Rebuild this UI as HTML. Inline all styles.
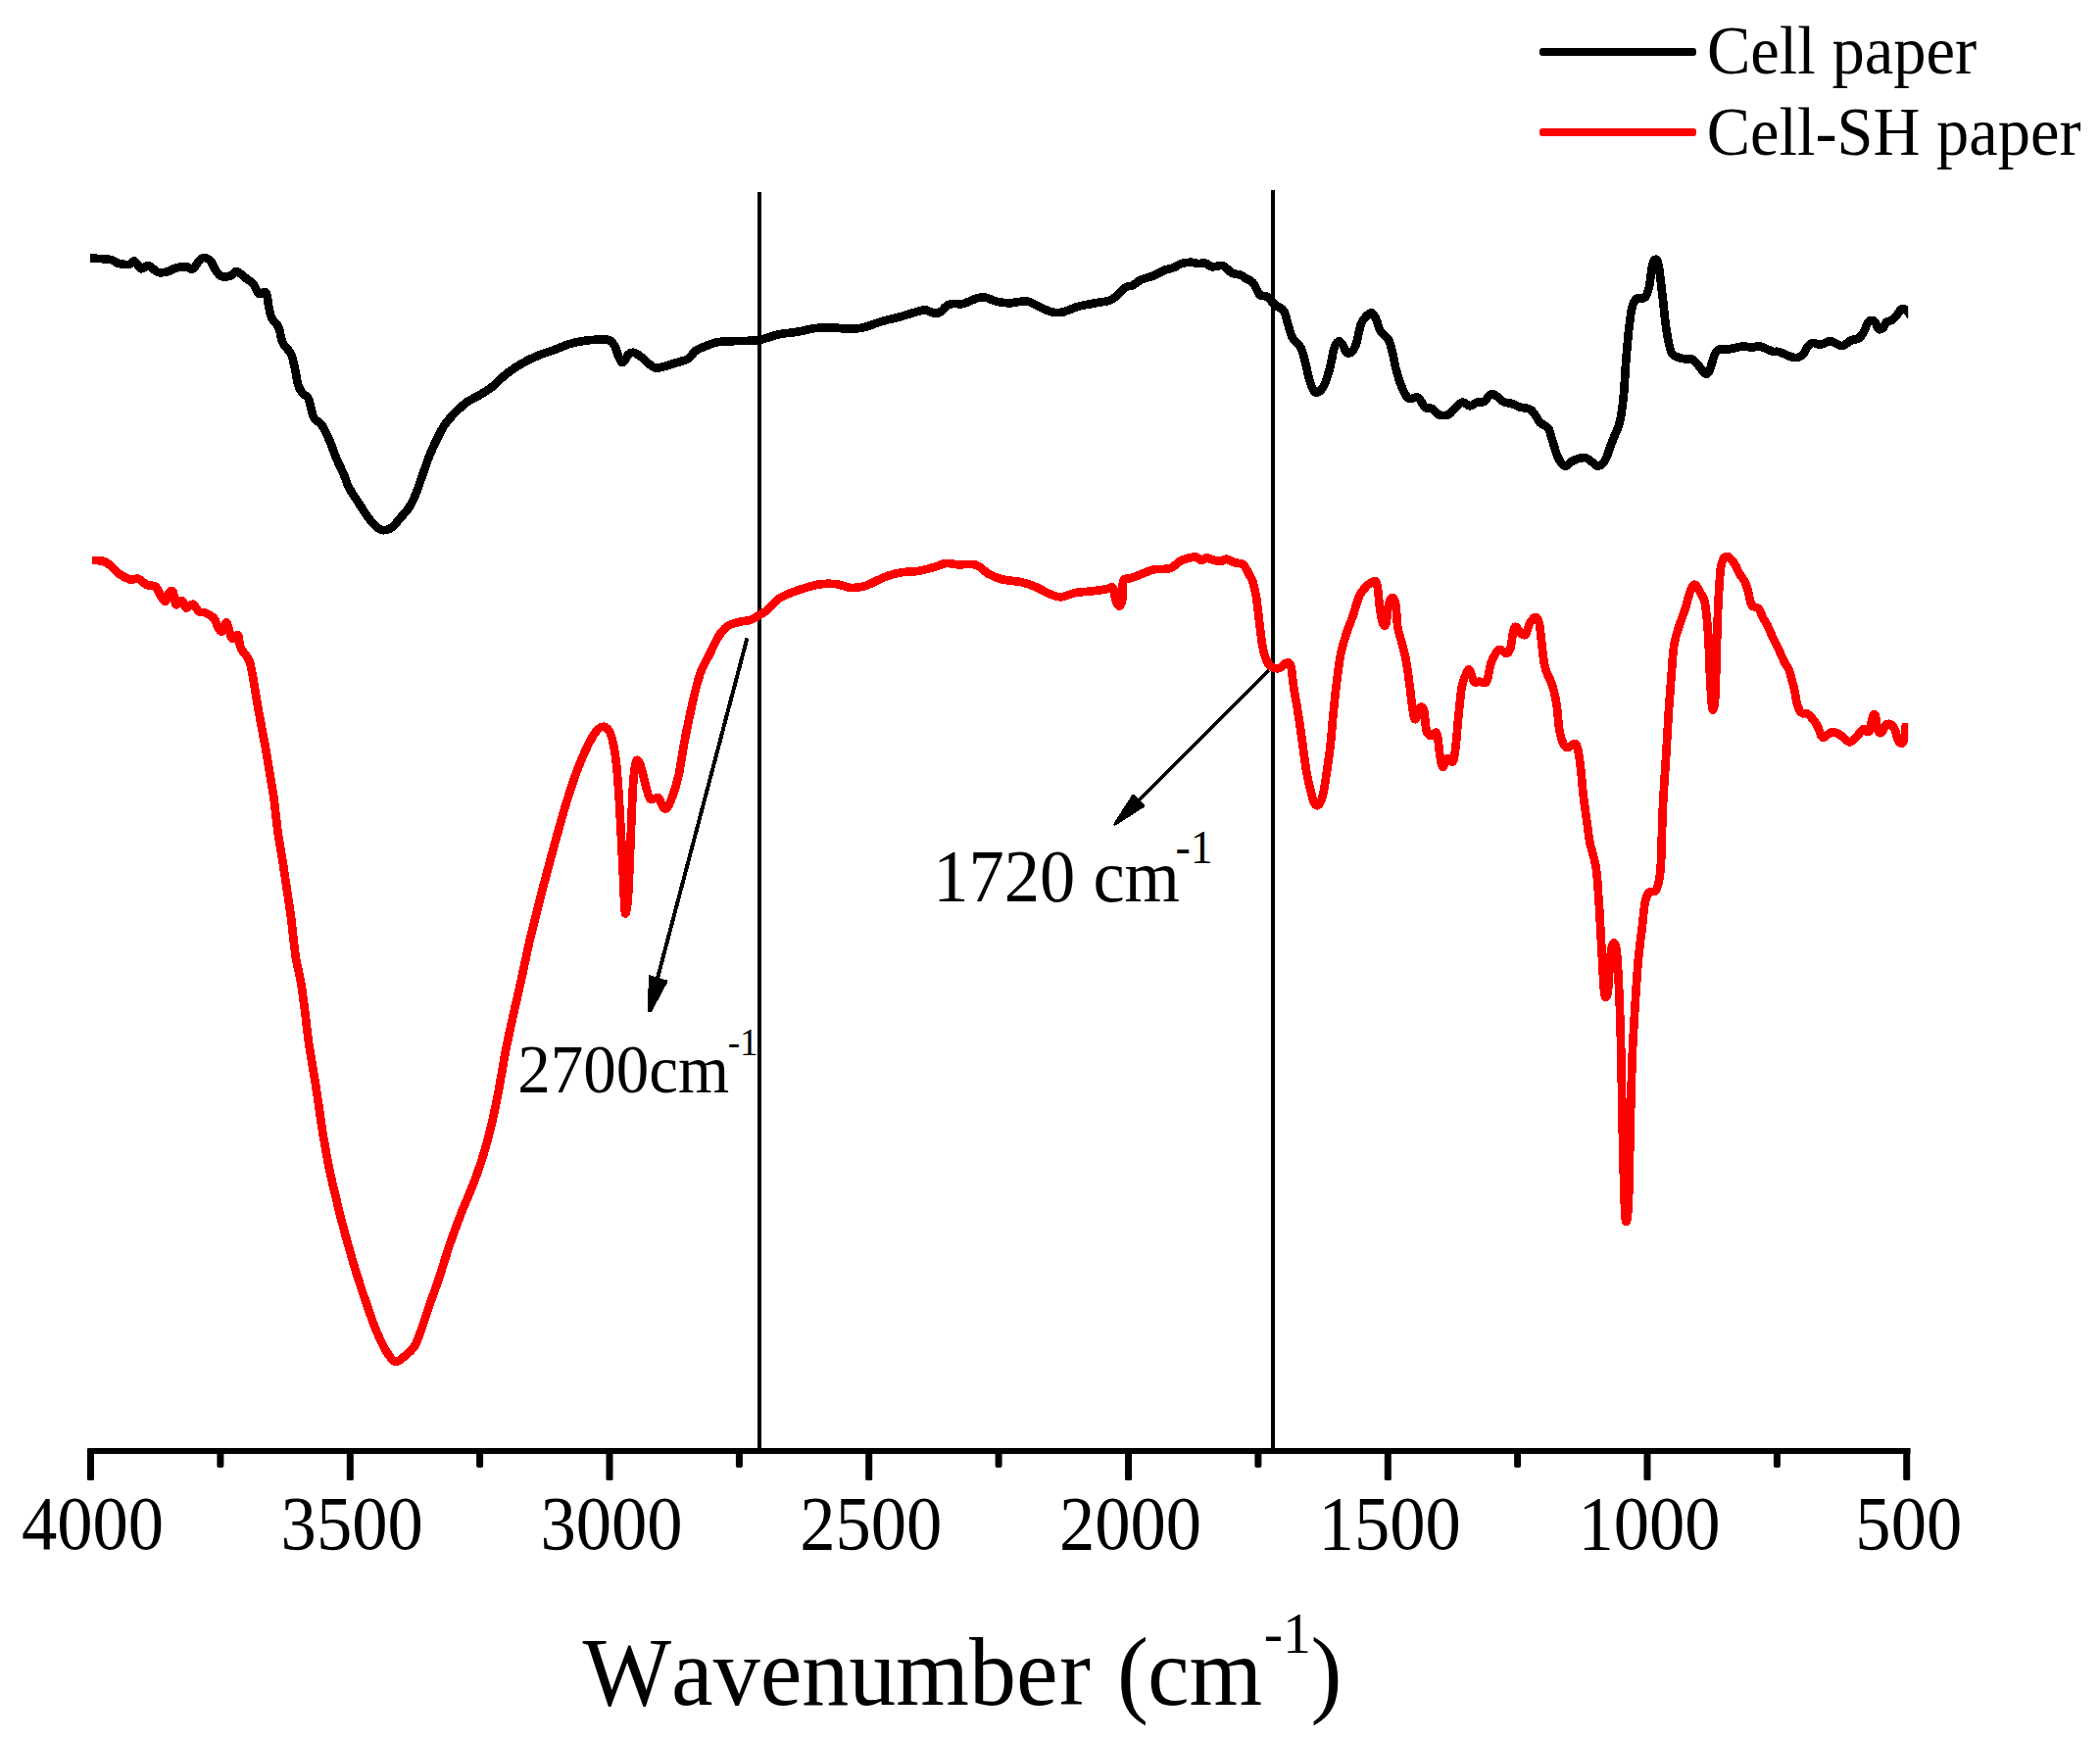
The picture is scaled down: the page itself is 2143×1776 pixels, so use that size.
<!DOCTYPE html>
<html lang="en">
<head>
<meta charset="utf-8">
<title>FTIR spectra – Cell paper vs Cell-SH paper</title>
<style>
html,body{margin:0;padding:0;background:#fff;}
body{width:2143px;height:1776px;overflow:hidden;font-family:"Liberation Serif", "Times New Roman", serif;}
svg text{font-family:"Liberation Serif", "Times New Roman", serif;font-kerning:none;font-variant-ligatures:none;}
</style>
</head>
<body>
<svg width="2143" height="1776" viewBox="0 0 2143 1776" style="display:block" font-family='"Liberation Serif", "Times New Roman", serif' fill="#000">
<rect width="2143" height="1776" fill="#fff"/>
<!-- vertical marker lines -->
<rect x="773" y="196" width="4" height="1284" fill="#000"/>
<rect x="1297" y="194" width="4" height="1286" fill="#000"/>
<!-- curves -->
<clipPath id="plotclip"><rect x="80" y="180" width="1867.2" height="1290"/></clipPath>
<g clip-path="url(#plotclip)" shape-rendering="crispEdges">
<path d="M92.0,263.4C95.5,263.7 108.2,264.2 112.9,265.1C117.6,266.0 116.9,267.8 120.0,268.6C123.1,269.4 128.6,270.3 131.4,270.0C134.2,269.7 134.9,265.9 137.1,266.6C139.2,267.3 141.9,273.6 144.3,274.3C146.7,275.0 148.6,270.3 151.4,270.9C154.2,271.5 158.1,277.0 161.4,278.0C164.7,279.0 168.3,277.9 171.4,277.1C174.5,276.3 176.9,274.2 180.0,273.4C183.1,272.6 187.2,272.1 190.0,272.3C192.8,272.5 194.5,275.7 197.1,274.3C199.7,272.9 202.8,265.1 205.7,263.7C208.6,262.3 211.9,263.7 214.3,265.7C216.7,267.7 218.1,273.0 220.0,275.7C221.9,278.4 223.1,281.1 225.7,282.0C228.3,282.9 233.1,282.2 235.7,281.4C238.3,280.6 238.8,276.6 241.4,277.1C244.0,277.6 248.5,282.2 251.4,284.3C254.3,286.4 256.5,287.4 258.6,290.0C260.8,292.6 262.2,298.6 264.3,300.0C266.4,301.4 269.7,296.5 271.4,298.6C273.1,300.8 273.4,308.6 274.3,312.9C275.2,317.2 275.4,320.7 277.1,324.3C278.8,327.9 282.4,330.0 284.3,334.3C286.2,338.6 286.5,345.5 288.6,350.0C290.7,354.5 295.0,356.6 297.1,361.4C299.2,366.2 300.2,373.4 301.4,378.6C302.6,383.9 303.1,389.1 304.3,392.9C305.5,396.7 306.8,399.0 308.6,401.4C310.4,403.8 313.0,403.1 314.9,407.1C316.8,411.2 317.7,421.2 320.0,425.7C322.3,430.2 325.8,430.0 328.6,434.3C331.5,438.6 334.7,445.9 337.1,451.4C339.5,456.9 340.5,461.4 342.9,467.1C345.3,472.8 349.3,480.7 351.4,485.7C353.5,490.7 353.3,492.6 355.7,497.1C358.1,501.6 362.1,507.4 365.7,512.9C369.3,518.4 373.5,525.5 377.1,530.0C380.7,534.5 384.2,538.2 387.1,540.0C390.0,541.8 391.9,541.4 394.3,540.9C396.7,540.4 399.0,539.1 401.4,537.1C403.8,535.1 406.0,531.7 408.6,528.6C411.2,525.5 414.5,522.6 417.1,518.6C419.7,514.6 421.9,510.0 424.3,504.3C426.7,498.6 429.0,491.0 431.4,484.3C433.8,477.6 436.0,470.7 438.6,464.3C441.2,457.9 444.5,450.9 447.1,445.7C449.7,440.5 451.2,437.2 454.3,432.9C457.4,428.6 461.9,423.8 465.7,420.0C469.5,416.2 473.1,412.9 477.1,410.0C481.2,407.1 485.7,405.5 490.0,402.9C494.3,400.3 498.4,397.9 502.9,394.3C507.4,390.7 511.9,385.4 517.1,381.4C522.3,377.3 528.6,373.2 534.3,370.0C540.0,366.8 546.2,364.1 551.4,362.0C556.6,359.9 560.9,358.9 565.7,357.1C570.5,355.3 574.8,353.0 580.0,351.4C585.2,349.8 591.9,348.5 597.1,347.7C602.3,346.9 607.4,346.7 611.4,346.6C615.4,346.5 618.8,346.1 621.4,347.1C624.0,348.2 625.4,350.0 627.1,352.9C628.8,355.8 630.0,361.4 631.4,364.3C632.8,367.2 634.0,370.5 635.7,370.0C637.4,369.5 639.5,363.1 641.4,361.4C643.3,359.7 645.0,359.5 647.1,360.0C649.2,360.5 651.0,361.8 654.3,364.3C657.6,366.8 663.3,373.2 667.1,374.9C670.9,376.6 673.5,375.0 677.1,374.3C680.7,373.6 684.6,371.9 688.6,370.6C692.6,369.3 697.8,368.7 701.4,366.6C705.0,364.5 706.9,360.2 710.0,358.0C713.1,355.8 716.2,354.9 720.0,353.4C723.8,351.9 727.2,350.0 732.9,349.1C738.6,348.2 747.4,348.3 754.3,348.0C761.2,347.7 767.6,348.2 774.3,347.1C781.0,346.0 787.6,342.8 794.3,341.4C801.0,340.0 808.1,339.7 814.3,338.6C820.5,337.6 825.7,335.8 831.4,335.1C837.1,334.4 842.9,334.2 848.6,334.3C854.3,334.4 860.2,335.7 865.7,335.7C871.2,335.7 875.7,335.6 881.4,334.3C887.1,333.0 893.6,329.9 900.0,328.0C906.4,326.1 914.3,324.5 920.0,322.9C925.7,321.3 930.2,319.7 934.3,318.6C938.3,317.5 941.4,316.2 944.3,316.3C947.1,316.4 949.0,318.6 951.4,319.1C953.8,319.6 956.0,320.4 958.6,319.1C961.2,317.8 964.5,312.9 967.1,311.4C969.7,309.9 971.7,310.2 974.3,310.0C976.9,309.8 979.1,310.9 982.9,310.0C986.7,309.1 993.3,305.4 997.1,304.3C1000.9,303.2 1002.4,303.1 1005.7,303.7C1009.0,304.3 1013.1,306.8 1017.1,307.7C1021.1,308.6 1026.2,309.3 1030.0,309.4C1033.8,309.4 1036.7,308.2 1040.0,308.0C1043.3,307.8 1046.2,306.9 1050.0,308.0C1053.8,309.1 1058.9,312.5 1062.9,314.3C1067.0,316.1 1070.7,317.9 1074.3,318.6C1077.9,319.3 1080.0,319.6 1084.3,318.6C1088.6,317.7 1094.5,314.4 1100.0,312.9C1105.5,311.4 1111.4,310.6 1117.1,309.4C1122.8,308.2 1129.0,308.4 1134.3,305.7C1139.5,303.0 1145.0,295.8 1148.6,293.4C1152.2,291.0 1153.1,292.7 1155.7,291.4C1158.3,290.1 1160.7,287.4 1164.3,285.7C1167.9,284.0 1173.0,283.1 1177.1,281.4C1181.1,279.7 1185.3,277.0 1188.6,275.7C1191.9,274.4 1194.2,274.5 1197.1,273.4C1199.9,272.3 1202.6,270.1 1205.7,269.1C1208.8,268.2 1212.8,267.7 1215.7,267.7C1218.6,267.7 1220.5,269.0 1222.9,269.1C1225.3,269.2 1227.9,268.1 1230.0,268.6C1232.1,269.1 1234.0,271.4 1235.7,272.0C1237.4,272.6 1237.8,272.1 1240.0,272.0C1242.2,271.9 1245.8,270.3 1248.6,271.4C1251.4,272.5 1254.2,277.1 1257.1,278.6C1259.9,280.1 1263.3,279.7 1265.7,280.6C1268.1,281.6 1269.2,283.0 1271.4,284.3C1273.6,285.6 1276.2,285.8 1278.6,288.6C1281.0,291.4 1283.3,298.5 1285.7,300.9C1288.1,303.3 1290.3,301.1 1292.9,302.9C1295.5,304.6 1298.6,309.0 1301.4,311.4C1304.2,313.8 1307.8,313.5 1310.0,317.1C1312.2,320.7 1313.5,328.4 1314.9,332.9C1316.3,337.4 1316.6,340.7 1318.6,344.3C1320.6,347.9 1325.0,350.5 1327.1,354.3C1329.2,358.1 1330.0,361.9 1331.4,367.1C1332.8,372.3 1334.2,380.4 1335.7,385.7C1337.2,390.9 1338.9,396.2 1340.6,398.6C1342.3,401.0 1343.9,400.9 1345.7,400.0C1347.5,399.1 1349.5,396.9 1351.4,392.9C1353.3,388.8 1355.4,381.9 1357.1,375.7C1358.8,369.5 1360.0,360.2 1361.4,355.7C1362.8,351.2 1364.3,349.3 1365.7,348.6C1367.1,347.9 1368.6,349.5 1370.0,351.4C1371.4,353.3 1372.6,358.8 1374.3,360.0C1376.0,361.2 1378.3,360.3 1380.0,358.6C1381.7,356.9 1382.9,354.5 1384.3,350.0C1385.7,345.5 1387.2,335.7 1388.6,331.4C1390.0,327.1 1391.1,326.4 1392.9,324.3C1394.7,322.2 1397.5,318.9 1399.4,319.1C1401.3,319.3 1402.8,322.6 1404.3,325.7C1405.8,328.8 1406.5,334.4 1408.6,338.0C1410.7,341.6 1415.0,343.2 1417.1,347.1C1419.2,351.0 1420.2,356.6 1421.4,361.4C1422.6,366.2 1423.1,370.9 1424.3,375.7C1425.5,380.5 1426.9,385.5 1428.6,390.0C1430.3,394.5 1432.6,400.0 1434.3,402.9C1436.0,405.8 1436.5,406.6 1438.6,407.1C1440.7,407.6 1444.5,404.3 1447.1,405.7C1449.7,407.1 1451.9,413.8 1454.3,415.7C1456.7,417.6 1459.0,415.8 1461.4,417.1C1463.8,418.4 1465.7,422.4 1468.6,423.4C1471.5,424.4 1475.8,424.2 1478.6,422.9C1481.4,421.6 1483.3,417.8 1485.7,415.7C1488.1,413.6 1490.5,410.8 1492.9,410.6C1495.3,410.4 1497.6,414.3 1500.0,414.3C1502.4,414.3 1504.7,411.3 1507.1,410.6C1509.5,409.9 1511.7,411.4 1514.3,410.0C1516.9,408.6 1519.6,402.0 1522.9,402.0C1526.2,402.0 1531.0,408.3 1534.3,410.0C1537.6,411.7 1540.1,411.1 1542.9,412.0C1545.8,412.9 1548.3,414.8 1551.4,415.7C1554.5,416.6 1558.8,416.3 1561.4,417.7C1564.0,419.1 1565.4,422.0 1567.1,424.3C1568.8,426.6 1569.2,429.3 1571.4,431.4C1573.6,433.5 1577.8,434.0 1580.0,437.1C1582.2,440.2 1582.6,445.0 1584.3,450.0C1586.0,455.0 1587.9,462.8 1590.0,467.1C1592.1,471.4 1594.5,475.2 1597.1,475.7C1599.7,476.2 1602.4,471.4 1605.7,470.0C1609.0,468.6 1614.0,466.9 1617.1,467.1C1620.2,467.3 1621.9,470.0 1624.3,471.4C1626.7,472.8 1629.0,476.2 1631.4,475.7C1633.8,475.2 1636.4,472.4 1638.6,468.6C1640.8,464.8 1642.2,458.4 1644.3,452.9C1646.4,447.4 1649.7,440.5 1651.4,435.7C1653.1,430.9 1653.3,430.0 1654.3,424.3C1655.2,418.6 1656.2,410.9 1657.1,401.4C1657.9,391.9 1658.5,378.1 1659.4,367.1C1660.3,356.2 1661.2,344.7 1662.3,335.7C1663.3,326.7 1664.4,318.0 1665.7,312.9C1667.0,307.8 1667.8,306.4 1670.0,304.9C1672.2,303.4 1676.4,305.7 1678.6,303.7C1680.8,301.7 1681.6,298.5 1682.9,292.9C1684.2,287.3 1685.1,274.7 1686.3,270.0C1687.5,265.3 1688.9,264.4 1690.0,264.9C1691.1,265.4 1691.7,265.9 1692.9,272.9C1694.1,279.9 1695.9,297.1 1697.1,307.1C1698.3,317.1 1698.8,324.8 1700.0,332.9C1701.2,341.0 1702.9,350.7 1704.3,355.7C1705.7,360.7 1706.0,361.1 1708.6,362.9C1711.2,364.7 1716.9,366.0 1720.0,366.6C1723.1,367.2 1724.7,365.3 1727.1,366.6C1729.5,367.9 1732.1,371.8 1734.3,374.3C1736.5,376.8 1738.3,380.7 1740.0,381.4C1741.7,382.1 1742.6,381.9 1744.3,378.6C1746.0,375.3 1748.3,365.1 1750.0,361.4C1751.7,357.7 1752.1,357.4 1754.3,356.6C1756.5,355.8 1759.1,357.1 1762.9,356.6C1766.7,356.1 1774.2,354.2 1777.1,353.7C1779.9,353.2 1778.2,353.2 1780.0,353.4C1781.8,353.5 1785.3,354.6 1788.0,354.6C1790.7,354.6 1792.6,352.7 1796.0,353.4C1799.4,354.1 1805.4,357.7 1808.6,358.6C1811.8,359.6 1812.2,358.2 1815.4,359.1C1818.6,360.1 1824.8,363.3 1828.0,364.3C1831.2,365.3 1832.8,365.5 1834.9,364.9C1837.0,364.3 1839.1,362.6 1840.6,360.9C1842.1,359.2 1842.5,356.4 1844.0,354.6C1845.5,352.8 1847.4,350.5 1849.7,350.0C1852.0,349.5 1854.7,352.0 1857.7,351.7C1860.8,351.4 1864.6,348.1 1868.0,348.3C1871.4,348.5 1876.0,352.2 1878.3,352.9C1880.6,353.6 1879.8,353.3 1881.7,352.3C1883.6,351.3 1887.2,348.2 1889.7,347.1C1892.2,346.0 1894.5,346.9 1896.6,345.4C1898.7,343.9 1900.8,340.6 1902.3,338.0C1903.8,335.4 1904.6,331.8 1905.7,330.0C1906.8,328.2 1907.8,327.3 1909.1,327.1C1910.4,326.9 1912.5,327.6 1913.7,328.9C1914.9,330.1 1915.2,333.4 1916.0,334.6C1916.8,335.8 1917.3,336.3 1918.3,336.3C1919.2,336.3 1920.6,335.8 1921.7,334.6C1922.8,333.4 1923.6,330.2 1925.1,328.9C1926.6,327.6 1929.2,327.8 1930.9,326.6C1932.6,325.5 1933.9,323.8 1935.4,322.0C1936.9,320.2 1938.7,316.8 1940.0,315.7C1941.3,314.6 1942.2,315.2 1943.4,315.7C1944.6,316.2 1945.8,317.4 1946.9,318.6C1948.1,319.8 1949.7,322.4 1950.3,323.1" fill="none" stroke="#000" stroke-width="8.7" stroke-linejoin="round" stroke-linecap="butt"/>
<path d="M93.7,572.0C95.7,572.1 102.3,571.8 105.7,572.9C109.1,574.0 111.7,576.5 114.3,578.6C116.9,580.7 118.3,583.6 121.4,585.7C124.5,587.8 129.6,590.5 132.9,591.4C136.2,592.3 138.6,589.9 141.4,590.9C144.2,591.9 147.1,595.8 150.0,597.1C152.9,598.4 156.2,596.7 158.6,598.6C161.0,600.5 162.6,606.1 164.3,608.6C166.0,611.1 167.2,614.4 168.6,613.7C170.0,613.0 171.6,605.9 172.9,604.3C174.2,602.7 175.5,602.2 176.6,604.3C177.7,606.4 177.9,615.7 179.4,617.1C180.9,618.5 183.9,612.3 185.7,612.9C187.5,613.5 188.1,620.0 190.0,620.6C191.9,621.2 194.9,616.0 197.1,616.6C199.2,617.2 200.8,622.8 202.9,624.3C205.1,625.8 207.4,624.5 210.0,625.7C212.6,626.9 216.4,628.8 218.6,631.4C220.8,634.0 221.5,639.2 222.9,641.4C224.3,643.5 225.7,645.2 227.1,644.3C228.5,643.3 229.8,634.5 231.4,635.7C233.0,636.9 234.7,649.2 236.6,651.4C238.5,653.5 241.4,646.9 242.9,648.6C244.4,650.3 243.8,657.1 245.7,661.4C247.6,665.7 252.2,668.8 254.3,674.3C256.5,679.8 257.2,686.7 258.6,694.3C260.0,701.9 261.5,711.9 262.9,720.0C264.3,728.1 265.7,735.3 267.1,742.9C268.5,750.5 270.0,757.6 271.4,765.7C272.8,773.8 274.4,783.3 275.7,791.4C277.0,799.5 278.4,807.6 279.4,814.3C280.3,821.0 280.6,824.7 281.4,831.4C282.2,838.1 283.1,846.2 284.3,854.3C285.5,862.4 287.2,871.0 288.6,880.0C290.0,889.0 291.5,899.1 292.9,908.6C294.3,918.1 295.9,928.1 297.1,937.1C298.3,946.1 299.1,955.8 300.0,962.9C300.9,970.0 301.1,973.3 302.3,980.0C303.5,986.7 305.6,993.9 307.1,1002.9C308.6,1011.9 310.0,1023.3 311.4,1034.3C312.8,1045.2 314.0,1057.2 315.7,1068.6C317.4,1080.0 319.7,1092.4 321.4,1102.9C323.1,1113.4 324.3,1121.9 325.7,1131.4C327.1,1140.9 328.3,1150.0 330.0,1160.0C331.7,1170.0 333.6,1180.9 335.7,1191.4C337.8,1201.9 340.5,1212.9 342.9,1222.9C345.3,1232.9 347.6,1242.4 350.0,1251.4C352.4,1260.4 354.5,1268.0 357.1,1277.1C359.7,1286.1 362.8,1296.7 365.7,1305.7C368.6,1314.8 371.4,1323.1 374.3,1331.4C377.2,1339.7 380.0,1348.6 382.9,1355.7C385.8,1362.8 388.8,1369.3 391.4,1374.3C394.0,1379.3 396.5,1383.1 398.6,1385.7C400.8,1388.3 401.9,1390.2 404.3,1390.0C406.7,1389.8 409.8,1386.9 412.9,1384.3C416.0,1381.7 420.0,1378.8 422.9,1374.3C425.8,1369.8 427.4,1364.2 430.0,1357.1C432.6,1349.9 435.5,1340.4 438.6,1331.4C441.7,1322.4 445.3,1312.9 448.6,1302.9C451.9,1292.9 455.0,1281.9 458.6,1271.4C462.2,1260.9 465.9,1250.5 470.0,1240.0C474.1,1229.5 479.1,1218.6 482.9,1208.6C486.7,1198.6 489.8,1190.0 492.9,1180.0C496.0,1170.0 498.8,1159.5 501.4,1148.6C504.0,1137.6 506.2,1126.7 508.6,1114.3C511.0,1101.9 513.3,1086.7 515.7,1074.3C518.1,1061.9 520.5,1051.0 522.9,1040.0C525.3,1029.0 527.8,1018.3 530.0,1008.6C532.2,998.9 533.9,990.6 535.9,981.6C537.9,972.6 538.8,967.2 541.8,954.7C544.8,942.2 549.8,922.3 553.8,906.9C557.8,891.5 561.8,876.5 565.8,862.1C569.8,847.7 573.7,833.2 577.7,820.2C581.7,807.2 585.7,794.9 589.7,784.4C593.7,773.9 598.1,764.2 601.6,757.5C605.1,750.8 607.9,746.5 610.6,744.0C613.4,741.5 615.9,741.2 618.1,742.5C620.3,743.8 622.3,746.0 624.0,751.5C625.7,757.0 627.2,765.4 628.5,775.4C629.8,785.4 630.6,798.3 631.5,811.3C632.4,824.2 633.1,839.1 633.9,853.1C634.6,867.1 635.4,882.5 636.0,895.0C636.6,907.5 637.0,921.8 637.5,927.8C638.0,933.8 638.4,933.3 639.0,930.8C639.6,928.3 640.5,922.4 641.1,912.9C641.8,903.4 642.3,888.0 642.9,874.0C643.5,860.0 644.1,842.2 644.7,829.2C645.3,816.2 645.7,804.8 646.4,796.3C647.1,787.8 647.9,781.6 648.8,778.4C649.7,775.2 650.7,775.4 651.8,776.9C652.9,778.4 654.0,782.7 655.4,787.4C656.8,792.1 658.5,800.6 659.9,805.3C661.3,810.0 661.8,814.3 663.8,815.8C665.8,817.3 669.7,813.1 671.8,814.3C673.9,815.5 674.8,821.5 676.3,823.2C677.8,824.9 679.0,826.7 680.8,824.7C682.5,822.7 684.8,817.0 686.8,811.3C688.8,805.6 691.0,798.4 692.8,790.4C694.5,782.4 695.6,773.0 697.3,763.5C699.0,754.0 701.2,743.1 703.2,733.6C705.2,724.1 707.2,714.7 709.2,706.7C711.2,698.7 712.7,692.3 715.2,685.8C717.7,679.3 721.1,673.8 724.1,667.8C727.1,661.8 730.1,654.6 733.1,649.9C736.1,645.2 738.6,641.9 742.1,639.4C745.6,636.9 750.0,636.0 754.0,634.9C758.0,633.8 762.0,634.1 766.0,632.6C770.0,631.1 775.1,627.6 777.9,626.0C780.7,624.4 780.2,625.3 782.9,622.9C785.6,620.5 790.5,614.3 794.3,611.4C798.1,608.5 801.4,607.5 805.7,605.7C810.0,603.9 814.8,602.2 820.0,600.6C825.2,599.0 831.4,597.0 837.1,596.3C842.8,595.6 849.0,595.7 854.3,596.3C859.5,596.9 863.8,599.7 868.6,600.0C873.4,600.3 878.6,599.2 882.9,598.0C887.2,596.8 890.5,594.6 894.3,592.9C898.1,591.2 901.4,589.4 905.7,588.0C910.0,586.6 914.8,585.1 920.0,584.3C925.2,583.4 931.4,583.8 937.1,582.9C942.8,582.0 949.5,579.9 954.3,578.6C959.1,577.3 961.9,575.3 965.7,574.9C969.5,574.5 972.1,576.0 977.1,576.3C982.1,576.6 990.5,575.0 995.7,576.6C1001.0,578.2 1004.1,583.2 1008.6,585.7C1013.1,588.2 1017.2,590.0 1022.9,591.4C1028.6,592.8 1037.2,593.0 1042.9,594.3C1048.6,595.6 1052.3,597.1 1057.1,599.1C1061.8,601.1 1067.1,604.6 1071.4,606.3C1075.7,608.0 1078.6,609.6 1082.9,609.4C1087.2,609.2 1091.9,606.1 1097.1,605.1C1102.3,604.1 1109.0,604.0 1114.3,603.4C1119.5,602.8 1125.0,602.0 1128.6,601.4C1132.2,600.8 1134.0,598.1 1135.7,600.0C1137.4,601.9 1137.5,609.8 1138.6,612.9C1139.6,616.0 1140.9,618.6 1142.0,618.6C1143.1,618.6 1144.4,617.2 1145.1,612.9C1145.8,608.6 1144.8,596.7 1146.3,592.9C1147.8,589.1 1151.1,591.2 1154.3,590.0C1157.5,588.8 1161.9,587.1 1165.7,585.7C1169.5,584.3 1172.3,582.4 1177.1,581.4C1181.9,580.4 1189.5,581.6 1194.3,580.0C1199.1,578.4 1201.4,573.9 1205.7,572.0C1210.0,570.1 1216.7,568.6 1220.0,568.6C1223.3,568.6 1223.8,571.9 1225.7,572.0C1227.6,572.1 1229.5,569.5 1231.4,569.4C1233.3,569.3 1234.7,570.8 1237.1,571.4C1239.5,572.0 1243.3,573.0 1245.7,572.9C1248.1,572.8 1249.0,570.4 1251.4,570.6C1253.8,570.8 1257.1,573.3 1260.0,574.3C1262.9,575.2 1266.2,574.4 1268.6,576.3C1271.0,578.2 1272.6,582.7 1274.3,585.7C1276.0,588.7 1277.3,590.0 1278.6,594.3C1279.9,598.6 1281.2,604.7 1282.3,611.4C1283.4,618.1 1284.1,626.7 1285.1,634.3C1286.0,641.9 1287.0,650.9 1288.0,657.1C1289.0,663.3 1290.0,667.6 1291.4,671.4C1292.8,675.2 1294.2,678.2 1296.6,680.0C1299.0,681.8 1303.2,682.5 1305.7,682.0C1308.2,681.5 1309.5,677.6 1311.4,677.1C1313.3,676.6 1315.7,675.3 1317.1,679.1C1318.5,682.9 1318.8,692.2 1320.0,700.0C1321.2,707.8 1322.9,716.7 1324.3,725.7C1325.7,734.8 1327.2,744.3 1328.6,754.3C1330.0,764.3 1331.5,777.1 1332.9,785.7C1334.3,794.3 1335.7,800.0 1337.1,805.7C1338.5,811.4 1340.0,817.4 1341.4,820.0C1342.8,822.6 1344.3,822.8 1345.7,821.4C1347.1,820.0 1348.6,817.3 1350.0,811.4C1351.4,805.5 1353.0,794.3 1354.3,785.7C1355.6,777.1 1356.7,769.5 1357.7,760.0C1358.8,750.5 1359.5,739.6 1360.6,728.6C1361.7,717.6 1363.0,704.8 1364.3,694.3C1365.6,683.8 1366.9,673.8 1368.6,665.7C1370.3,657.6 1372.3,651.9 1374.3,645.7C1376.3,639.5 1378.5,634.8 1380.6,628.6C1382.7,622.4 1385.0,613.4 1387.1,608.6C1389.1,603.8 1390.8,602.4 1392.9,600.0C1395.1,597.6 1398.0,595.0 1400.0,594.3C1402.0,593.6 1403.8,591.4 1405.1,595.7C1406.4,600.0 1407.0,613.3 1408.0,620.0C1409.0,626.7 1409.9,632.9 1410.9,635.7C1412.0,638.6 1413.3,640.2 1414.3,637.1C1415.3,634.0 1416.0,621.6 1417.1,617.1C1418.2,612.6 1419.7,610.0 1420.9,610.0C1422.1,610.0 1423.4,612.1 1424.3,617.1C1425.2,622.1 1425.3,633.8 1426.3,640.0C1427.2,646.2 1428.6,648.6 1430.0,654.3C1431.4,660.0 1433.5,666.7 1434.9,674.3C1436.3,681.9 1437.5,691.9 1438.6,700.0C1439.7,708.1 1440.5,717.2 1441.4,722.9C1442.4,728.6 1443.1,734.3 1444.3,734.3C1445.5,734.3 1447.2,724.6 1448.6,722.9C1450.0,721.2 1451.7,720.5 1452.9,724.3C1454.1,728.1 1454.5,741.3 1455.7,745.7C1456.9,750.1 1458.2,750.4 1460.0,750.9C1461.8,751.4 1464.8,745.6 1466.3,748.6C1467.8,751.6 1468.1,762.9 1469.1,768.6C1470.0,774.3 1470.7,782.0 1472.0,782.9C1473.3,783.8 1475.3,775.3 1477.1,774.3C1478.9,773.3 1481.5,779.5 1482.9,777.1C1484.3,774.7 1484.8,768.1 1485.7,760.0C1486.7,751.9 1487.5,738.6 1488.6,728.6C1489.6,718.6 1490.6,707.1 1492.0,700.0C1493.4,692.9 1495.8,688.3 1497.1,685.7C1498.4,683.1 1498.8,682.6 1500.0,684.3C1501.2,686.0 1502.6,693.8 1504.3,695.7C1506.0,697.6 1507.9,695.7 1510.0,695.7C1512.1,695.7 1515.2,698.8 1517.1,695.7C1519.0,692.6 1519.7,682.1 1521.4,677.1C1523.1,672.1 1525.4,668.1 1527.1,665.7C1528.8,663.3 1529.7,662.7 1531.4,662.9C1533.1,663.1 1535.4,667.4 1537.1,667.1C1538.8,666.9 1540.2,665.2 1541.4,661.4C1542.6,657.6 1543.3,647.9 1544.3,644.3C1545.2,640.7 1545.7,639.5 1547.1,640.0C1548.5,640.5 1551.2,645.9 1552.9,647.1C1554.6,648.3 1555.7,649.0 1557.1,647.1C1558.5,645.2 1559.7,638.6 1561.4,635.7C1563.1,632.9 1565.5,629.8 1567.1,630.0C1568.7,630.2 1569.7,631.1 1570.9,637.1C1572.1,643.1 1573.3,658.1 1574.3,665.7C1575.3,673.3 1575.4,677.2 1577.1,682.9C1578.8,688.6 1582.4,693.8 1584.3,700.0C1586.2,706.2 1587.4,712.4 1588.6,720.0C1589.8,727.6 1590.2,739.0 1591.4,745.7C1592.6,752.4 1594.3,757.1 1595.7,760.0C1597.1,762.9 1597.8,762.9 1600.0,762.9C1602.2,762.9 1606.4,756.7 1608.6,760.0C1610.8,763.3 1611.7,774.3 1612.9,782.9C1614.1,791.5 1614.5,801.4 1615.7,811.4C1616.9,821.4 1618.9,834.8 1620.0,842.9C1621.1,851.0 1621.0,852.9 1622.4,860.0C1623.9,867.1 1627.2,876.0 1628.7,885.3C1630.2,894.6 1630.5,905.1 1631.3,915.6C1632.1,926.1 1632.7,937.5 1633.3,948.5C1633.9,959.5 1634.5,971.3 1635.1,981.4C1635.7,991.5 1636.3,1003.1 1636.8,1009.2C1637.3,1015.3 1637.6,1017.6 1638.3,1018.0C1639.0,1018.4 1640.2,1017.0 1640.9,1011.7C1641.6,1006.4 1642.0,993.6 1642.6,986.4C1643.2,979.2 1643.7,972.7 1644.4,968.7C1645.1,964.7 1646.1,962.4 1646.9,962.4C1647.8,962.4 1648.7,963.0 1649.5,968.7C1650.3,974.4 1651.0,987.3 1651.5,996.6C1652.0,1005.9 1652.4,1013.5 1652.8,1024.4C1653.2,1035.4 1653.6,1047.5 1654.0,1062.3C1654.4,1077.0 1654.7,1096.0 1655.0,1112.9C1655.3,1129.8 1655.6,1146.7 1656.0,1163.5C1656.4,1180.3 1656.9,1201.0 1657.3,1214.0C1657.7,1227.0 1658.2,1236.3 1658.6,1241.8C1659.0,1247.3 1659.4,1247.3 1659.8,1246.9C1660.2,1246.5 1660.7,1244.8 1661.1,1239.3C1661.5,1233.8 1662.0,1226.6 1662.4,1214.0C1662.8,1201.4 1663.0,1180.3 1663.4,1163.5C1663.8,1146.7 1664.1,1128.9 1664.6,1112.9C1665.1,1096.9 1665.5,1082.2 1666.2,1067.4C1666.9,1052.7 1667.8,1038.7 1668.7,1024.4C1669.6,1010.1 1670.6,994.0 1671.7,981.4C1672.8,968.8 1674.3,958.6 1675.5,948.5C1676.7,938.4 1677.5,927.0 1678.8,920.7C1680.1,914.4 1681.3,912.5 1683.1,910.6C1684.9,908.7 1687.7,911.4 1689.4,909.3C1691.1,907.2 1692.3,902.8 1693.2,897.9C1694.1,893.0 1694.6,886.5 1695.0,880.2C1695.4,873.9 1695.4,870.0 1695.7,860.0C1696.0,850.0 1696.4,834.3 1697.1,820.0C1697.8,805.7 1699.0,790.0 1700.0,774.3C1701.0,758.6 1702.0,740.0 1702.9,725.7C1703.9,711.4 1704.7,700.5 1705.7,688.6C1706.7,676.7 1706.7,665.6 1709.1,654.3C1711.5,642.9 1717.6,628.3 1720.0,620.5C1722.4,612.7 1722.4,611.2 1723.6,607.5C1724.8,603.8 1726.0,599.9 1727.2,598.2C1728.4,596.5 1729.5,596.4 1730.8,597.5C1732.1,598.6 1733.7,602.1 1735.1,604.7C1736.5,607.3 1738.3,609.2 1739.4,613.3C1740.5,617.4 1740.9,623.1 1741.6,629.1C1742.2,635.1 1742.8,641.3 1743.3,649.2C1743.8,657.1 1744.0,667.2 1744.4,676.5C1744.8,685.8 1745.4,697.5 1745.9,705.2C1746.4,712.9 1746.8,719.5 1747.3,722.5C1747.8,725.5 1748.2,724.9 1748.7,723.2C1749.2,721.5 1749.8,719.0 1750.2,712.4C1750.6,705.8 1751.0,694.5 1751.3,683.7C1751.6,672.9 1752.0,658.6 1752.3,647.8C1752.6,637.0 1752.9,627.4 1753.3,619.0C1753.7,610.6 1754.1,604.0 1754.5,597.5C1754.9,591.0 1755.3,584.5 1755.9,580.2C1756.5,575.9 1757.1,573.6 1758.1,571.6C1759.1,569.6 1760.5,568.4 1761.7,568.0C1762.9,567.6 1763.9,568.2 1765.3,569.5C1766.7,570.8 1768.6,573.1 1770.3,575.9C1772.0,578.6 1773.6,583.1 1775.3,586.0C1777.0,588.9 1778.9,590.3 1780.3,593.2C1781.7,596.1 1782.7,599.1 1783.9,603.2C1785.1,607.3 1785.7,614.6 1787.5,617.6C1789.3,620.6 1792.8,619.1 1794.7,621.2C1796.6,623.4 1797.6,627.8 1799.0,630.5C1800.4,633.2 1801.6,634.4 1803.3,637.7C1805.0,641.1 1807.2,646.5 1809.1,650.6C1811.0,654.7 1812.9,658.0 1814.8,662.1C1816.7,666.2 1818.8,671.5 1820.6,675.1C1822.4,678.7 1824.3,680.6 1825.6,683.7C1826.9,686.8 1827.5,690.1 1828.5,693.7C1829.5,697.3 1830.6,701.4 1831.4,705.2C1832.2,709.0 1832.7,713.4 1833.5,716.7C1834.3,720.1 1835.4,723.4 1836.4,725.3C1837.4,727.2 1838.1,727.7 1839.3,728.2C1840.5,728.7 1841.9,727.4 1843.6,728.2C1845.3,729.0 1847.4,730.9 1849.3,733.2C1851.2,735.5 1853.5,738.9 1855.1,741.9C1856.6,744.9 1857.5,749.4 1858.6,751.2C1859.7,753.0 1860.4,752.8 1861.5,752.6C1862.6,752.4 1863.8,750.7 1865.1,749.8C1866.4,748.9 1867.5,747.4 1869.4,747.3C1871.3,747.2 1874.4,748.0 1876.6,749.1C1878.8,750.2 1880.6,752.7 1882.4,754.1C1884.2,755.5 1885.7,757.4 1887.4,757.4C1889.1,757.4 1890.6,755.7 1892.4,754.1C1894.2,752.5 1896.6,749.3 1898.2,747.6C1899.8,745.9 1900.6,744.1 1901.8,744.0C1903.0,743.9 1904.2,746.6 1905.3,746.9C1906.4,747.1 1907.5,747.2 1908.2,745.5C1908.9,743.8 1909.1,739.4 1909.7,736.8C1910.3,734.2 1911.1,730.7 1911.8,729.7C1912.5,728.8 1913.4,729.2 1914.0,731.1C1914.6,733.0 1914.8,738.4 1915.4,741.1C1916.0,743.9 1916.8,746.6 1917.6,747.6C1918.4,748.6 1919.3,748.1 1920.4,746.9C1921.5,745.7 1922.7,741.7 1924.0,740.4C1925.3,739.1 1926.7,738.4 1928.3,739.0C1929.9,739.6 1932.2,742.0 1933.4,744.0C1934.6,746.0 1934.8,749.0 1935.5,751.2C1936.2,753.4 1936.7,755.8 1937.7,757.0C1938.7,758.2 1940.3,758.9 1941.3,758.4C1942.2,757.9 1942.9,756.0 1943.4,754.1C1943.9,752.2 1944.1,749.6 1944.4,746.9C1944.7,744.2 1944.9,739.5 1945.0,738.0" fill="none" stroke="#ff0000" stroke-width="8.7" stroke-linejoin="round" stroke-linecap="butt"/>
</g>
<!-- axis -->
<rect x="89.5" y="1478" width="1860" height="6" fill="#000"/>
<g fill="#000"><rect x="89.0" y="1478" width="7" height="33" rx="1.5"/><rect x="221.4" y="1478" width="7" height="20" rx="2"/><rect x="353.8" y="1478" width="7" height="33" rx="1.5"/><rect x="486.1" y="1478" width="7" height="20" rx="2"/><rect x="618.5" y="1478" width="7" height="33" rx="1.5"/><rect x="750.9" y="1478" width="7" height="20" rx="2"/><rect x="883.2" y="1478" width="7" height="33" rx="1.5"/><rect x="1015.6" y="1478" width="7" height="20" rx="2"/><rect x="1148.0" y="1478" width="7" height="33" rx="1.5"/><rect x="1280.4" y="1478" width="7" height="20" rx="2"/><rect x="1412.8" y="1478" width="7" height="33" rx="1.5"/><rect x="1545.1" y="1478" width="7" height="20" rx="2"/><rect x="1677.5" y="1478" width="7" height="33" rx="1.5"/><rect x="1809.9" y="1478" width="7" height="20" rx="2"/><rect x="1942.2" y="1478" width="7" height="33" rx="1.5"/></g>
<g><text transform="translate(94.5,1581.3) scale(1,1.07)" text-anchor="middle" font-size="72.6">4000</text><text transform="translate(359.2,1581.3) scale(1,1.07)" text-anchor="middle" font-size="72.6">3500</text><text transform="translate(624.0,1581.3) scale(1,1.07)" text-anchor="middle" font-size="72.6">3000</text><text transform="translate(888.8,1581.3) scale(1,1.07)" text-anchor="middle" font-size="72.6">2500</text><text transform="translate(1153.5,1581.3) scale(1,1.07)" text-anchor="middle" font-size="72.6">2000</text><text transform="translate(1418.2,1581.3) scale(1,1.07)" text-anchor="middle" font-size="72.6">1500</text><text transform="translate(1683.0,1581.3) scale(1,1.07)" text-anchor="middle" font-size="72.6">1000</text><text transform="translate(1947.8,1581.3) scale(1,1.07)" text-anchor="middle" font-size="72.6">500</text></g>
<!-- axis title -->
<text transform="translate(594.5,1739.5) scale(1,1.03)" font-size="96">Wavenumbe<tspan dx="1.5">r</tspan><tspan dx="3"> (</tspan><tspan dx="-1">cm</tspan><tspan font-size="58" dy="-50.5" dx="1.5">-</tspan><tspan font-size="58" dx="0">1</tspan><tspan dy="50.5" dx="-0.5">)</tspan></text>
<!-- legend -->
<rect x="1571" y="49" width="160" height="8" rx="3" fill="#000"/>
<rect x="1571" y="131" width="160" height="8" rx="3" fill="#ff0000"/>
<text transform="translate(1742,75.2) scale(1,1.05)" font-size="66.5">Cell paper</text>
<text transform="translate(1741.8,158) scale(1,1.05)" font-size="66.4">Cell-SH paper</text>
<!-- annotations -->
<g shape-rendering="crispEdges">
<line x1="762.4" y1="651.4" x2="670.6" y2="1000" stroke="#000" stroke-width="4"/><polygon points="661.8,995 681.2,1000.6 681.2,1002.5 664.8,1033 661,1033" fill="#000"/>
<line x1="1294.9" y1="684.2" x2="1158.8" y2="820.2" stroke="#000" stroke-width="3.9"/><polygon points="1137.9,841.1 1156.5,812.2 1166.8,822.6" fill="#000" stroke="#000" stroke-width="3" stroke-linejoin="round"/>
</g>
<text transform="translate(952.3,920.4) scale(1,1.05)" font-size="72.5">1720 cm<tspan font-size="46" dy="-38" dx="-4.5">-1</tspan></text>
<text transform="translate(528.3,1114.6) scale(1,1.05)" font-size="67">2700cm<tspan font-size="37.5" dy="-36" dx="-1.5">-1</tspan></text>
</svg>
</body>
</html>
